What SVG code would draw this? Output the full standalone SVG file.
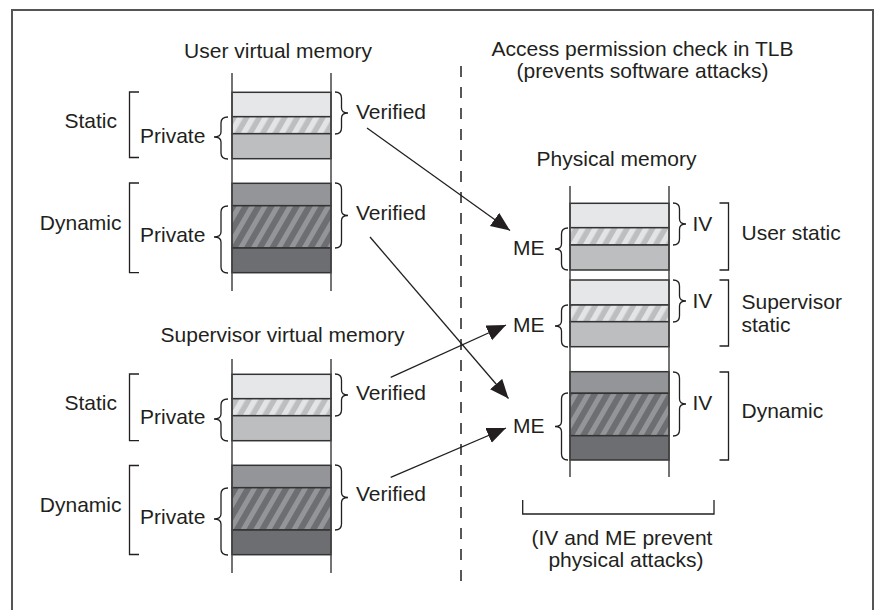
<svg xmlns="http://www.w3.org/2000/svg" width="876" height="610" viewBox="0 0 876 610">
<defs>
<pattern id="hatchL" width="11" height="11" patternUnits="userSpaceOnUse" patternTransform="rotate(30)">
<rect width="11" height="11" fill="#bcbec0"/><rect width="5.5" height="11" fill="#e3e4e5"/>
</pattern>
<pattern id="hatchD" width="11" height="11" patternUnits="userSpaceOnUse" patternTransform="rotate(30)">
<rect width="11" height="11" fill="#6d6e71"/><rect width="5" height="11" fill="#939598"/>
</pattern>
<marker id="arr" markerUnits="userSpaceOnUse" markerWidth="22" markerHeight="18" refX="19" refY="8" orient="auto">
<path d="M0,0 L19,8 L0,16 z" fill="#231f20"/>
</marker>
</defs>
<style>
text{font-family:"Liberation Sans",Arial,sans-serif;font-size:21px;fill:#231f20}
.m{text-anchor:middle}.e{text-anchor:end}
.b{stroke:#333;stroke-width:1.5}
.lt{fill:#e6e7e8}.md{fill:#bcbec0}.gr{fill:#939598}.dk{fill:#6d6e71}.hl{fill:url(#hatchL)}.hd{fill:url(#hatchD)}
.col{stroke:#444;stroke-width:1.5;fill:none}
.br{stroke:#231f20;stroke-width:1.3;fill:none}
.con{stroke:#231f20;stroke-width:1.3;fill:none;marker-end:url(#arr)}
</style>
<rect x="12" y="10" width="861" height="610" fill="#fff" stroke="#555" stroke-width="2"/>
<line x1="461" y1="66" x2="461" y2="586" stroke="#231f20" stroke-width="1.5" stroke-dasharray="11 10"/>
<text class="m" x="642.5" y="56">Access permission check in TLB</text>
<text class="m" x="642.5" y="78">(prevents software attacks)</text>

<g id="user-virtual-memory">
<text class="m" x="278" y="58">User virtual memory</text>
<rect class="b lt" x="232" y="92.3" width="99" height="24.4"/>
<rect class="b hl" x="232" y="116.7" width="99" height="17"/>
<rect class="b md" x="232" y="133.7" width="99" height="25"/>
<rect class="b gr" x="232" y="183.3" width="99" height="22.4"/>
<rect class="b hd" x="232" y="205.7" width="99" height="42.3"/>
<rect class="b dk" x="232" y="248" width="99" height="24.7"/>
<line class="col" x1="232" y1="73" x2="232" y2="291"/>
<line class="col" x1="331" y1="73" x2="331" y2="291"/>
<text class="e" x="117" y="128">Static</text>
<path class="br" d="M139,92 L129.5,92 L129.5,157.5 L139,157.5"/>
<text class="e" x="121.5" y="230">Dynamic</text>
<path class="br" d="M139,183 L129.5,183 L129.5,272.7 L139,272.7"/>
<text x="140" y="143">Private</text>
<path class="br" d="M228,117 Q221,117 221,123 L221,132 Q221,137 214,137 Q221,137 221,142 L221,153 Q221,159 228,159"/>
<text x="140" y="242">Private</text>
<path class="br" d="M228,206 Q221,206 221,212 L221,232 Q221,237 214,237 Q221,237 221,242 L221,267 Q221,273 228,273"/>
<path class="br" d="M335,92 Q341.5,92 341.5,98 L341.5,108 Q341.5,113 348,113 Q341.5,113 341.5,118 L341.5,128 Q341.5,134 335,134"/>
<text x="356" y="119">Verified</text>
<path class="br" d="M335,183 Q341.5,183 341.5,189 L341.5,210.5 Q341.5,215.5 348,215.5 Q341.5,215.5 341.5,220.5 L341.5,242 Q341.5,248 335,248"/>
<text x="356" y="219.5">Verified</text>
</g>

<g id="supervisor-virtual-memory">
<text class="m" x="282.5" y="341.5">Supervisor virtual memory</text>
<rect class="b lt" x="232" y="374.3" width="99" height="24.4"/>
<rect class="b hl" x="232" y="398.7" width="99" height="17"/>
<rect class="b md" x="232" y="415.7" width="99" height="25"/>
<rect class="b gr" x="232" y="465.3" width="99" height="22.4"/>
<rect class="b hd" x="232" y="487.7" width="99" height="42.3"/>
<rect class="b dk" x="232" y="530" width="99" height="24.7"/>
<line class="col" x1="232" y1="359" x2="232" y2="573"/>
<line class="col" x1="331" y1="359" x2="331" y2="573"/>
<text class="e" x="117" y="410">Static</text>
<path class="br" d="M139,374 L129.5,374 L129.5,440.7 L139,440.7"/>
<text class="e" x="121.5" y="512">Dynamic</text>
<path class="br" d="M139,465.5 L129.5,465.5 L129.5,554.5 L139,554.5"/>
<text x="140" y="424">Private</text>
<path class="br" d="M228,399 Q221,399 221,405 L221,414 Q221,419 214,419 Q221,419 221,424 L221,435 Q221,441 228,441"/>
<text x="140" y="524">Private</text>
<path class="br" d="M228,488 Q221,488 221,494 L221,514 Q221,519 214,519 Q221,519 221,524 L221,549 Q221,555 228,555"/>
<path class="br" d="M335,374 Q341.5,374 341.5,380 L341.5,390 Q341.5,395 348,395 Q341.5,395 341.5,400 L341.5,410 Q341.5,416 335,416"/>
<text x="356" y="400">Verified</text>
<path class="br" d="M335,465 Q341.5,465 341.5,471 L341.5,492.5 Q341.5,497.5 348,497.5 Q341.5,497.5 341.5,502.5 L341.5,524 Q341.5,530 335,530"/>
<text x="356" y="501">Verified</text>
</g>

<g id="physical-memory">
<text class="m" x="616.5" y="166">Physical memory</text>
<rect class="b lt" x="570" y="203.3" width="99" height="24.4"/>
<rect class="b hl" x="570" y="227.7" width="99" height="17.3"/>
<rect class="b md" x="570" y="245" width="99" height="25"/>
<rect class="b lt" x="570" y="280" width="99" height="25"/>
<rect class="b hl" x="570" y="305" width="99" height="16.7"/>
<rect class="b md" x="570" y="321.7" width="99" height="25"/>
<rect class="b gr" x="570" y="371.7" width="99" height="21.6"/>
<rect class="b hd" x="570" y="393.3" width="99" height="42.4"/>
<rect class="b dk" x="570" y="435.7" width="99" height="24.3"/>
<line class="col" x1="570" y1="186" x2="570" y2="477"/>
<line class="col" x1="669" y1="186" x2="669" y2="477"/>
<text x="513" y="255">ME</text>
<path class="br" d="M568,228 Q561.5,228 561.5,234 L561.5,244 Q561.5,249 555,249 Q561.5,249 561.5,254 L561.5,264 Q561.5,270 568,270"/>
<text x="513" y="332">ME</text>
<path class="br" d="M568,305 Q561.5,305 561.5,311 L561.5,321 Q561.5,326 555,326 Q561.5,326 561.5,331 L561.5,341 Q561.5,347 568,347"/>
<text x="513" y="433">ME</text>
<path class="br" d="M568,393 Q561.5,393 561.5,399 L561.5,421.5 Q561.5,426.5 555,426.5 Q561.5,426.5 561.5,431.5 L561.5,454 Q561.5,460 568,460"/>
<path class="br" d="M673,203 Q679.5,203 679.5,209 L679.5,219 Q679.5,224 686,224 Q679.5,224 679.5,229 L679.5,239 Q679.5,245 673,245"/>
<text x="692.5" y="231">IV</text>
<path class="br" d="M673,280 Q679.5,280 679.5,286 L679.5,296 Q679.5,301 686,301 Q679.5,301 679.5,306 L679.5,316 Q679.5,322 673,322"/>
<text x="692.5" y="308">IV</text>
<path class="br" d="M673,372 Q679.5,372 679.5,378 L679.5,399 Q679.5,404 686,404 Q679.5,404 679.5,409 L679.5,430 Q679.5,436 673,436"/>
<text x="692.5" y="410">IV</text>
<path class="br" d="M719.5,203 L728.5,203 L728.5,270 L719.5,270"/>
<text x="741.5" y="240">User static</text>
<path class="br" d="M719.5,280 L728.5,280 L728.5,346 L719.5,346"/>
<text x="741.5" y="309">Supervisor</text>
<text x="741.5" y="332">static</text>
<path class="br" d="M719.5,372 L728.5,372 L728.5,460 L719.5,460"/>
<text x="741.5" y="418">Dynamic</text>
<path class="br" d="M522.7,500 L522.7,514 L714,514 L714,500"/>
<text class="m" x="622" y="545">(IV and ME prevent</text>
<text class="m" x="626" y="567">physical attacks)</text>
</g>

<g id="connectors">
<line class="con" x1="367" y1="128" x2="510" y2="230.5"/>
<line class="con" x1="370" y1="237" x2="508.5" y2="398.5"/>
<line class="con" x1="390.7" y1="377.3" x2="506" y2="325"/>
<line class="con" x1="390.7" y1="477.3" x2="506" y2="428"/>
</g>
</svg>
